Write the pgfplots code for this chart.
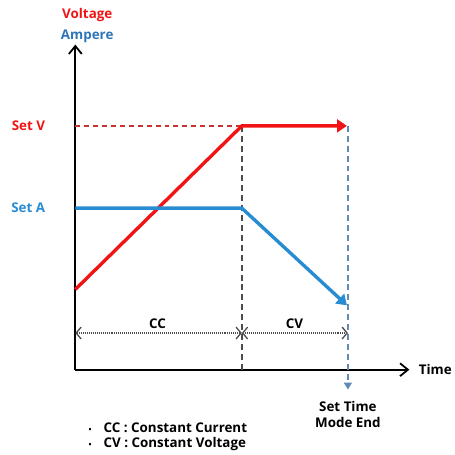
\documentclass[border=0pt]{standalone}
\usepackage{fontspec}
\setmainfont{Open Sans}
\usepackage{pgfplots}
\pgfplotsset{compat=1.18}
\usetikzlibrary{arrows.meta}
\definecolor{vred}{RGB}{240,20,20}
\definecolor{dred}{RGB}{200,50,50}
\definecolor{ablue}{RGB}{40,140,210}
\definecolor{tblue}{RGB}{46,117,182}
\definecolor{dblue}{RGB}{95,140,180}
\begin{document}
\begin{tikzpicture}
\begin{axis}[
  scale only axis, width=337pt, height=328pt,
  xmin=0, xmax=337, ymin=0, ymax=328,
  axis lines=left,
  axis line style={line width=2.2pt, -{Straight Barb[length=8pt,width=13pt,line width=1.8pt]}},
  xtick=\empty, ytick=\empty,
  clip=false,
  font=\fontsize{13.5}{16}\selectfont\bfseries,
]
% dashed guides
\addplot[dred, line width=1.6pt, dash pattern=on 5pt off 4pt] coordinates {(0,246) (168,246)};
\addplot[black!70, line width=1.8pt, dash pattern=on 6pt off 4pt] coordinates {(168,246) (168,0)};
\addplot[dblue, line width=2pt, dash pattern=on 6pt off 4pt, -{Triangle[length=7pt,width=8pt]}] coordinates {(275,246) (275,-20)};
% dotted interval arrows
\addplot[black!70, line width=1.4pt, dash pattern=on 1pt off 1pt, {Straight Barb[length=5pt,width=12pt,line width=1.3pt]}-{Straight Barb[length=5pt,width=12pt,line width=1.3pt]}] coordinates {(0,37) (168,37)};
\addplot[black!70, line width=1.4pt, dash pattern=on 1pt off 1pt, {Straight Barb[length=5pt,width=12pt,line width=1.3pt]}-{Straight Barb[length=5pt,width=12pt,line width=1.3pt]}] coordinates {(168,37) (275,37)};
% voltage
\addplot[vred, line width=3.4pt, -{Triangle[length=10pt,width=13pt]}] coordinates {(0,81) (168,246) (274,246)};
% ampere
\addplot[ablue, line width=3.4pt, -{Triangle[length=10pt,width=13pt]}] coordinates {(0,163) (168,163) (274,65)};
% labels
\node[vred] at (axis cs:12,358) {Voltage};
\node[tblue] at (axis cs:12,336) {Ampere};
\node[vred, anchor=east] at (axis cs:-27,246) {Set V};
\node[ablue, anchor=east] at (axis cs:-27,163) {Set A};
\node at (axis cs:83,46) {CC};
\node at (axis cs:221,46) {CV};
\node[anchor=west] at (axis cs:343,0) {Time};
\node[align=center, anchor=north] at (axis cs:275,-28) {Set Time\\[0pt]Mode End};
\node[anchor=west] at (axis cs:10,-59) {\raisebox{0.5pt}{\footnotesize\textbullet}\hspace{12pt}CC : Constant Current};
\node[anchor=west] at (axis cs:10,-75) {\raisebox{0.5pt}{\footnotesize\textbullet}\hspace{12pt}CV : Constant Voltage};
\path (axis cs:-76,-82) rectangle (axis cs:378,373);
\end{axis}
\end{tikzpicture}
\end{document}
